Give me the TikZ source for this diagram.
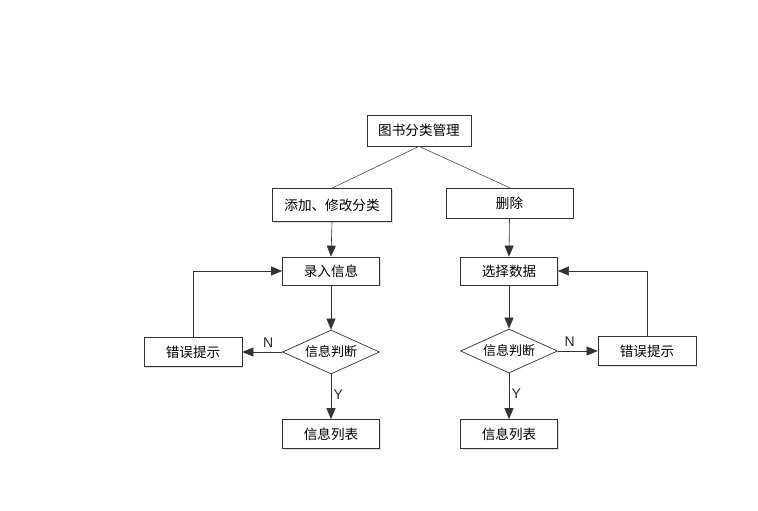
\documentclass[tikz,border=0pt]{standalone}
\usepackage{fontspec}
\setmainfont{Noto Sans CJK SC}
\newfontfamily\labfont{Liberation Sans}
\usetikzlibrary{arrows.meta,shapes.geometric,shadows}
\begin{document}
\begin{tikzpicture}[x=1pt,y=-1pt,
  box/.style={draw=black!80,line width=0.7pt,fill=white,font=\fontsize{13.6}{15}\selectfont,inner sep=0pt,
    drop shadow={shadow xshift=1pt,shadow yshift=-1pt,opacity=0.25}},
  dia/.style={draw=black!80,line width=0.7pt,fill=white,diamond,aspect=2.2,inner sep=0pt,font=\fontsize{13}{15}\selectfont,minimum width=97pt,minimum height=44pt},
  link/.style={draw=black!70,line width=0.6pt},
  arr/.style={link,-{Triangle[length=11pt,width=9pt]},black!80},
  lab/.style={font=\fontsize{14}{16}\selectfont\labfont,text=black!85}]
\useasboundingbox (0,0) rectangle (758,511);
\node[box,minimum width=104pt,minimum height=31pt] (root) at (419,130.5) {图书分类管理};
\node[box,minimum width=119pt,minimum height=33pt] (add) at (332,205) {添加、修改分类};
\node[box,minimum width=127pt,minimum height=30pt] (del) at (509.5,203) {删除};
\node[box,minimum width=97pt,minimum height=28pt] (in) at (331,271) {录入信息};
\node[dia] (d1) at (331,352) {信息判断};
\node[box,minimum width=98pt,minimum height=29pt] (e1) at (193,352) {错误提示};
\node[box,minimum width=97pt,minimum height=29pt] (l1) at (331,434) {信息列表};
\node[box,minimum width=97pt,minimum height=28pt] (sel) at (509,271) {选择数据};
\node[dia] (d2) at (509,351) {信息判断};
\node[box,minimum width=98pt,minimum height=29pt] (e2) at (647,351) {错误提示};
\node[box,minimum width=97pt,minimum height=29pt] (l2) at (509,434) {信息列表};
\draw[link] (root.south) -- (add.north);
\draw[link] (root.south) -- (del.north);
\draw[arr] (add.south) -- (in.north);
\draw[arr] (del.south) -- (sel.north);
\draw[arr] (in.south) -- (d1.north);
\draw[arr] (sel.south) -- (d2.north);
\draw[arr] (d1.west) -- node[lab,above,pos=0.35,yshift=1pt] (n1) {N} (e1.east);
\draw[arr] (d2.east) -- node[lab,above,pos=0.3,yshift=1pt] (n2) {N} (e2.west);
\draw[arr] (d1.south) -- node[lab,right,pos=0.45,xshift=-1pt] (y1) {Y} (l1.north);
\draw[arr] (d2.south) -- node[lab,right,pos=0.45,xshift=-1pt] (y2) {Y} (l2.north);
\draw[arr] (e1.north) |- (in.west);
\draw[arr] (e2.north) |- (sel.east);
\end{tikzpicture}
\end{document}
